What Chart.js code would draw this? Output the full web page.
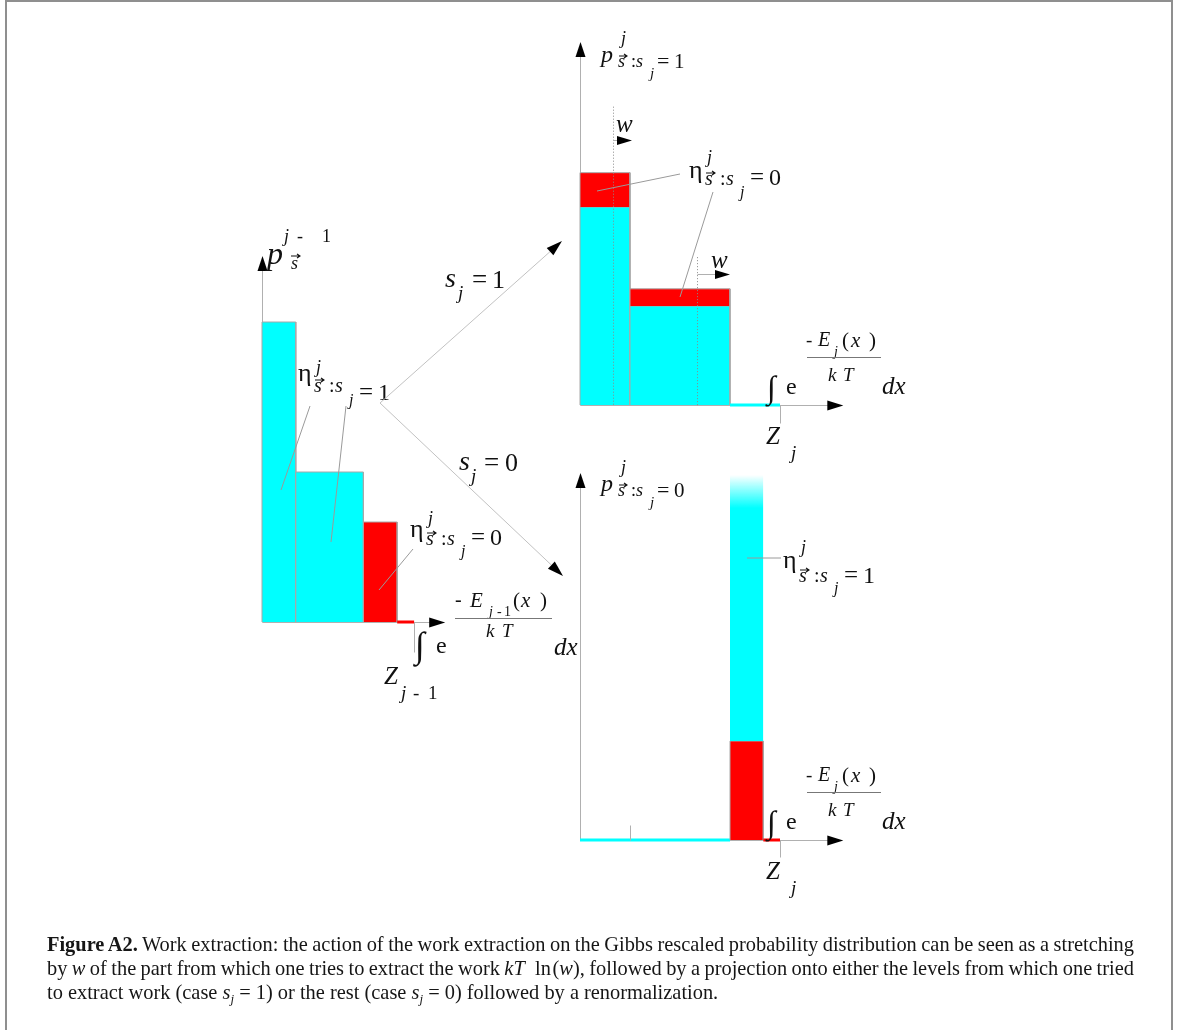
<!DOCTYPE html>
<html>
<head>
<meta charset="utf-8">
<title>Work extraction</title>
<script src="https://cdn.jsdelivr.net/npm/chart.js@4.4.1/dist/chart.umd.min.js"></script>
<style>
  html, body { margin:0; padding:0; background:#fff; }
  body { position:relative; width:1179px; height:1030px; overflow:hidden; font-family:"Liberation Serif","DejaVu Serif",serif; }
  #frame { position:absolute; left:5px; top:0; width:1164px; height:1040px; border:2px solid #8f8f8f; border-bottom:0; }
  .panel { position:absolute; }
  #marks { position:absolute; left:0; top:0; }
  #caption { position:absolute; left:47px; top:932px; width:1100px; font-size:20.4px; line-height:24px; color:#161616; }
  #caption div { white-space:nowrap; }
  #caption .j { display:inline-block; }
  #caption sub { font-size:13px; vertical-align:-4px; line-height:0; }
</style>
</head>
<body>
<div id="frame"></div>
<canvas id="left" class="panel"></canvas>
<canvas id="upper" class="panel"></canvas>
<canvas id="lower" class="panel"></canvas>
<svg id="marks" width="1179" height="1030" xmlns="http://www.w3.org/2000/svg"></svg>
<div id="caption">
  <div><span class="j"><b>Figure A2.</b> Work extraction: the action of the work extraction on the Gibbs rescaled probability distribution can be seen as a stretching</span></div>
  <div><span class="j">by <i>w</i> of the part from which one tries to extract the work <i>kT</i>&#8194;ln&#8202;(<i>w</i>), followed by a projection onto either the levels from which one tried</span></div>
  <div><span>to extract work (case <i>s<sub>j</sub></i> = 1) or the rest (case <i>s<sub>j</sub></i> = 0) followed by a renormalization.</span></div>
</div>
<script>
// ---- distribution before the measurement (left) ----
const leftEdges = [0, 1, 3, 4];
const leftCyan  = [3, 1.5, 0];
const leftRed   = [0, 0, 1];
const leftTail  = [4, 4.5];          // thin red remainder on the axis
const leftZ     = 4.5;

// ---- outcome s_j = 1 (upper right) ----
const upEdges   = [0, 1.5, 4.5];
const upCyan    = [3, 1.5];
const upRed     = [0.52, 0.26];
const upTail    = [4.5, 6];          // thin cyan remainder on the axis
const upZ       = 6;
const upStretchX   = [1, 3.5];       // original bin ends before stretching by w
const upStretchTop = [4.52, 2.24];
const upArrowY     = [4.02, 1.98];
const upArrowEnd   = [1.56, 4.5];

// ---- outcome s_j = 0 (lower right) ----
const lowEdges  = [4.5, 5.5];
const lowRed    = [1.5];
const lowCyan   = [3.53];            // stacked above the red part
const lowFade   = [0.5];             // faded continuation above the cyan part
const lowBase   = [0, 4.5];          // thin cyan line on the axis
const lowTail   = [5.5, 6];          // thin red remainder on the axis
const lowZ      = 6;
const lowTick   = 1.5;

const RED = '#ff0000', CYAN = '#00ffff', EDGE = '#a8a8a8', AXIS = '#b0b0b0';

function rect(x0, x1, y0, y1, color, edge) {
  return {
    data: [{x:x0, y:y0}, {x:x0, y:y1}, {x:x1, y:y1}, {x:x1, y:y0}],
    backgroundColor: color,
    borderColor: edge || 'rgba(0,0,0,0)',
    borderWidth: edge ? 1 : 0,
    fill: {value: y0},
    pointRadius: 0, tension: 0
  };
}
function rule(range, y, color, w) {
  return {
    data: [{x:range[0], y:y}, {x:range[1], y:y}],
    borderColor: color, borderWidth: w, fill: false, pointRadius: 0,
    borderCapStyle: 'butt'
  };
}
function stacked(edges, lower, upper, lowColor, upColor) {
  const out = [];
  for (let i = 0; i < edges.length - 1; i++) {
    if (lower[i] > 0) out.push(rect(edges[i], edges[i+1], 0, lower[i], lowColor, EDGE));
    if (upper[i] > 0) out.push(rect(edges[i], edges[i+1], lower[i], lower[i] + upper[i], upColor, EDGE));
  }
  return out;
}

function arrowHead(ctx, tx, ty, dx, dy, len, half) {
  const n = Math.hypot(dx, dy), ux = dx / n, uy = dy / n;
  const bx = tx - ux * len, by = ty - uy * len;
  ctx.beginPath();
  ctx.moveTo(tx, ty);
  ctx.lineTo(bx - uy * half, by + ux * half);
  ctx.lineTo(bx + uy * half, by - ux * half);
  ctx.closePath();
  ctx.fillStyle = '#000';
  ctx.fill();
}

function decoPlugin(d) {
  return {
    id: 'deco',
    beforeDatasetsDraw(chart) {
      const {ctx, scales: {x, y}} = chart;
      const ox = Math.round(x.getPixelForValue(0)) + 0.5, oy = Math.round(y.getPixelForValue(0)) + 0.5;
      ctx.save();
      ctx.strokeStyle = AXIS; ctx.lineWidth = 1;
      ctx.beginPath();
      ctx.moveTo(ox, oy); ctx.lineTo(ox, y.getPixelForValue(d.yTip) + 10);
      ctx.moveTo(ox, oy); ctx.lineTo(x.getPixelForValue(d.xTip) - 10, oy);
      ctx.stroke();
      ctx.restore();
    },
    afterDatasetsDraw(chart) {
      const {ctx, scales: {x, y}} = chart;
      const ox = Math.round(x.getPixelForValue(0)) + 0.5, oy = Math.round(y.getPixelForValue(0)) + 0.5;
      ctx.save();
      arrowHead(ctx, ox, y.getPixelForValue(d.yTip), 0, -1, 15, 5);
      arrowHead(ctx, x.getPixelForValue(d.xTip), oy, 1, 0, 16, 5);
      ctx.strokeStyle = AXIS; ctx.lineWidth = 1;
      (d.ticks || []).forEach(t => {
        const px = Math.round(x.getPixelForValue(t.x)) + 0.5;
        ctx.beginPath(); ctx.moveTo(px, oy); ctx.lineTo(px, oy + t.len); ctx.stroke();
      });
      if (d.stretch) {
        d.stretch.x.forEach((sx, i) => {
          const px = Math.round(x.getPixelForValue(sx)) + 0.5;
          ctx.strokeStyle = '#8a8a8a';
          ctx.setLineDash([1, 2]);
          ctx.beginPath(); ctx.moveTo(px, y.getPixelForValue(d.stretch.top[i])); ctx.lineTo(px, oy); ctx.stroke();
          ctx.setLineDash([]);
          const ay = Math.round(y.getPixelForValue(d.stretch.arrowY[i])) + 0.5;
          const ex = x.getPixelForValue(d.stretch.arrowEnd[i]);
          ctx.strokeStyle = AXIS;
          ctx.beginPath(); ctx.moveTo(px, ay); ctx.lineTo(ex - 8, ay); ctx.stroke();
          arrowHead(ctx, ex, ay, 1, 0, 15, 4.5);
        });
      }
      ctx.restore();
    }
  };
}

function makePanel(id, layout, datasets, deco) {
  const [bx0, by0, bx1, by1] = layout.box;
  const [ox, oy] = layout.origin, [px, py] = layout.ppu;
  const cv = document.getElementById(id);
  cv.width = bx1 - bx0; cv.height = by1 - by0;
  cv.style.left = bx0 + 'px'; cv.style.top = by0 + 'px';
  return new Chart(cv, {
    type: 'line',
    data: { datasets: datasets.slice().reverse() },
    options: {
      responsive: false, animation: false, events: [],
      layout: { padding: 0 },
      plugins: { legend: { display: false }, tooltip: { enabled: false } },
      scales: {
        x: { type: 'linear', display: false, bounds: 'data', min: (bx0 - ox) / px, max: (bx1 - ox) / px },
        y: { type: 'linear', display: false, bounds: 'data', min: (oy - by1) / py, max: (oy - by0) / py }
      }
    },
    plugins: [decoPlugin(deco)]
  });
}

// left panel
makePanel('left',
  { origin: [262, 622], ppu: [33.8, 100], box: [240, 230, 470, 680] },
  [...stacked(leftEdges, leftCyan, leftRed, CYAN, RED), rule(leftTail, 0, RED, 3)],
  { xTip: 5.42, yTip: 3.66, ticks: [{ x: leftZ, len: 30 }] });

// upper right panel
makePanel('upper',
  { origin: [580, 405], ppu: [100 / 3, 66], box: [560, 30, 870, 440] },
  [...stacked(upEdges, upCyan, upRed, CYAN, RED), rule(upTail, 0, CYAN, 3)],
  { xTip: 7.9, yTip: 5.5, ticks: [{ x: upZ, len: 18 }],
    stretch: { x: upStretchX, top: upStretchTop, arrowY: upArrowY, arrowEnd: upArrowEnd } });

// lower right panel
const lowFadeSet = rect(lowEdges[0], lowEdges[1], lowRed[0] + lowCyan[0], lowRed[0] + lowCyan[0] + lowFade[0], CYAN, null);
lowFadeSet.backgroundColor = (c) => {
  const ch = c.chart;
  if (!ch.chartArea) return CYAN;
  const ys = ch.scales.y;
  const g = ch.ctx.createLinearGradient(0, ys.getPixelForValue(lowRed[0] + lowCyan[0]), 0, ys.getPixelForValue(lowRed[0] + lowCyan[0] + lowFade[0]));
  g.addColorStop(0, CYAN);
  g.addColorStop(1, 'rgba(0,255,255,0)');
  return g;
};
makePanel('lower',
  { origin: [580, 840], ppu: [100 / 3, 66], box: [560, 460, 870, 880] },
  [rule(lowBase, 0, CYAN, 3),
   rect(lowEdges[0], lowEdges[1], 0, lowRed[0], RED, EDGE),
   rect(lowEdges[0], lowEdges[1], lowRed[0], lowRed[0] + lowCyan[0], CYAN, null),
   lowFadeSet,
   rule(lowTail, 0, RED, 3)],
  { xTip: 7.9, yTip: 5.56, ticks: [{ x: lowZ, len: 17 }, { x: lowTick, len: -15 }] });

// ---- labels, pointers and transition arrows ----
const svg = document.getElementById('marks');
const NS = 'http://www.w3.org/2000/svg';
function T(x, y, s, size, it) {
  const t = document.createElementNS(NS, 'text');
  t.setAttribute('x', x); t.setAttribute('y', y);
  t.setAttribute('font-size', size);
  t.setAttribute('font-family', 'Liberation Serif, DejaVu Serif, serif');
  if (it) t.setAttribute('font-style', 'italic');
  t.setAttribute('fill', '#111');
  t.textContent = s;
  svg.appendChild(t);
}
function L(x1, y1, x2, y2, color) {
  const l = document.createElementNS(NS, 'line');
  l.setAttribute('x1', x1); l.setAttribute('y1', y1);
  l.setAttribute('x2', x2); l.setAttribute('y2', y2);
  l.setAttribute('stroke', color || '#9a9a9a'); l.setAttribute('stroke-width', 1);
  svg.appendChild(l);
}
function A(x1, y1, x2, y2) {
  const n = Math.hypot(x2 - x1, y2 - y1), ux = (x2 - x1) / n, uy = (y2 - y1) / n;
  const len = 16, half = 5, bx = x2 - ux * len, by = y2 - uy * len;
  L(x1, y1, bx, by, '#c2c2c2');
  const p = document.createElementNS(NS, 'polygon');
  p.setAttribute('points', `${x2},${y2} ${bx - uy * half},${by + ux * half} ${bx + uy * half},${by - ux * half}`);
  p.setAttribute('fill', '#000');
  svg.appendChild(p);
}
// vector arrow over a letter
function V(x, y, w) {
  const p = document.createElementNS(NS, 'path');
  p.setAttribute('d', `M${x},${y} L${x + w},${y} M${x + w - 3},${y - 2} L${x + w},${y} L${x + w - 3},${y + 2}`);
  p.setAttribute('stroke', '#111'); p.setAttribute('stroke-width', 1.1); p.setAttribute('fill', 'none');
  svg.appendChild(p);
}
function eta(x, y, v, o) {
  const k = o.k;
  T(x, y, 'η', 26 * k);
  T(x + 18 * k, y + o.sup, 'j', 18 * k, 1);
  T(x + 16 * k, y + o.sub, 's', 20 * k, 1); V(x + 16 * k + 1, y + o.sub - 12 * k, 9 * k);
  T(x + 31 * k, y + o.sub, ':', 20 * k);
  T(x + 37 * k, y + o.sub, 's', 20 * k, 1);
  T(x + 51 * k, y + o.j, 'j', 16 * k, 1);
  T(x + 61 * k, y + o.eq, '=', 25 * k);
  T(x + 80 * k, y + o.eq, v, 24 * k);
}
function pLabel(x, y, v) {
  T(x, y, 'p', 24, 1);
  T(x + 20, y - 18, 'j', 18, 1);
  T(x + 17, y + 5, 's', 18, 1); V(x + 18, y - 6, 8);
  T(x + 30, y + 5, ':', 18);
  T(x + 35, y + 5, 's', 18, 1);
  T(x + 49, y + 16, 'j', 15, 1);
  T(x + 56, y + 6, '=', 22);
  T(x + 73, y + 6, v, 21);
}

// left panel labels
T(267, 264, 'p', 32, 1);
T(284, 242, 'j', 18, 1); T(297, 242, '-', 18); T(322, 242, '1', 18);
T(291, 269, 's', 18, 1); V(291, 256, 9);
eta(298, 381, '1', { k: 1, sup: -8, sub: 11, j: 24, eq: 19 });
eta(410, 537, '0', { k: 1, sup: -13, sub: 8, j: 19, eq: 8 });
L(310, 406, 281, 490); L(346, 406, 331, 542); L(413, 549, 379, 590);
// left integral
T(455, 606, '-', 20); T(470, 607, 'E', 21, 1);
T(489, 616, 'j', 14, 1); T(497, 616, '-', 14); T(504, 616, '1', 14);
T(513, 607, '(', 21); T(521, 607, 'x', 21, 1); T(540, 607, ')', 21);
L(455, 618.5, 552, 618.5, '#777');
T(486, 637, 'k', 19, 1); T(502, 637, 'T', 19, 1);
T(415, 657, '∫', 36); T(436, 653, 'e', 24);
T(554, 655, 'dx', 25, 1);
T(384, 684, 'Z', 25, 1); T(401, 699, 'j', 19, 1); T(413, 699, '-', 19); T(428, 699, '1', 19);

// transitions
A(380, 403, 562, 241);
A(380, 403, 563, 576);
T(445, 287, 's', 28, 1); T(458, 299, 'j', 19, 1); T(472, 288, '=', 27); T(492, 288, '1', 26);
T(459, 470, 's', 28, 1); T(471, 482, 'j', 19, 1); T(484, 471, '=', 27); T(505, 471, '0', 26);

// upper right labels
pLabel(601, 62, '1');
T(616, 132, 'w', 25, 1);
T(711, 268, 'w', 25, 1);
eta(689, 178, '0', { k: 1, sup: -15, sub: 7, j: 19, eq: 7 });
L(680, 174, 597, 191); L(713, 192, 680, 297);
function rightIntegral(dy) {
  T(806, 346 + dy, '-', 19); T(818, 346 + dy, 'E', 20, 1); T(834, 356 + dy, 'j', 14, 1);
  T(842, 347 + dy, '(', 21); T(851, 347 + dy, 'x', 21, 1); T(869, 347 + dy, ')', 21);
  L(807, 357.5 + dy, 881, 357.5 + dy, '#777');
  T(828, 381 + dy, 'k', 19, 1); T(843, 381 + dy, 'T', 19, 1);
  T(767, 398 + dy, '∫', 32); T(786, 394 + dy, 'e', 24);
  T(882, 394 + dy, 'dx', 25, 1);
  T(766, 444 + dy, 'Z', 25, 1); T(791, 459 + dy, 'j', 19, 1);
}
rightIntegral(0);

// lower right labels
pLabel(601, 491, '0');
eta(783, 568, '1', { k: 1, sup: -15, sub: 14, j: 25, eq: 15 });
L(747, 558, 781, 558);
rightIntegral(435);

// caption justification
document.querySelectorAll('#caption .j').forEach(el => {
  el.style.wordSpacing = '0px';
  const w = el.getBoundingClientRect().width;
  const spaces = (el.textContent.match(/ /g) || []).length;
  el.style.wordSpacing = ((1087 - w) / spaces) + 'px';
});
</script>
</body>
</html>
